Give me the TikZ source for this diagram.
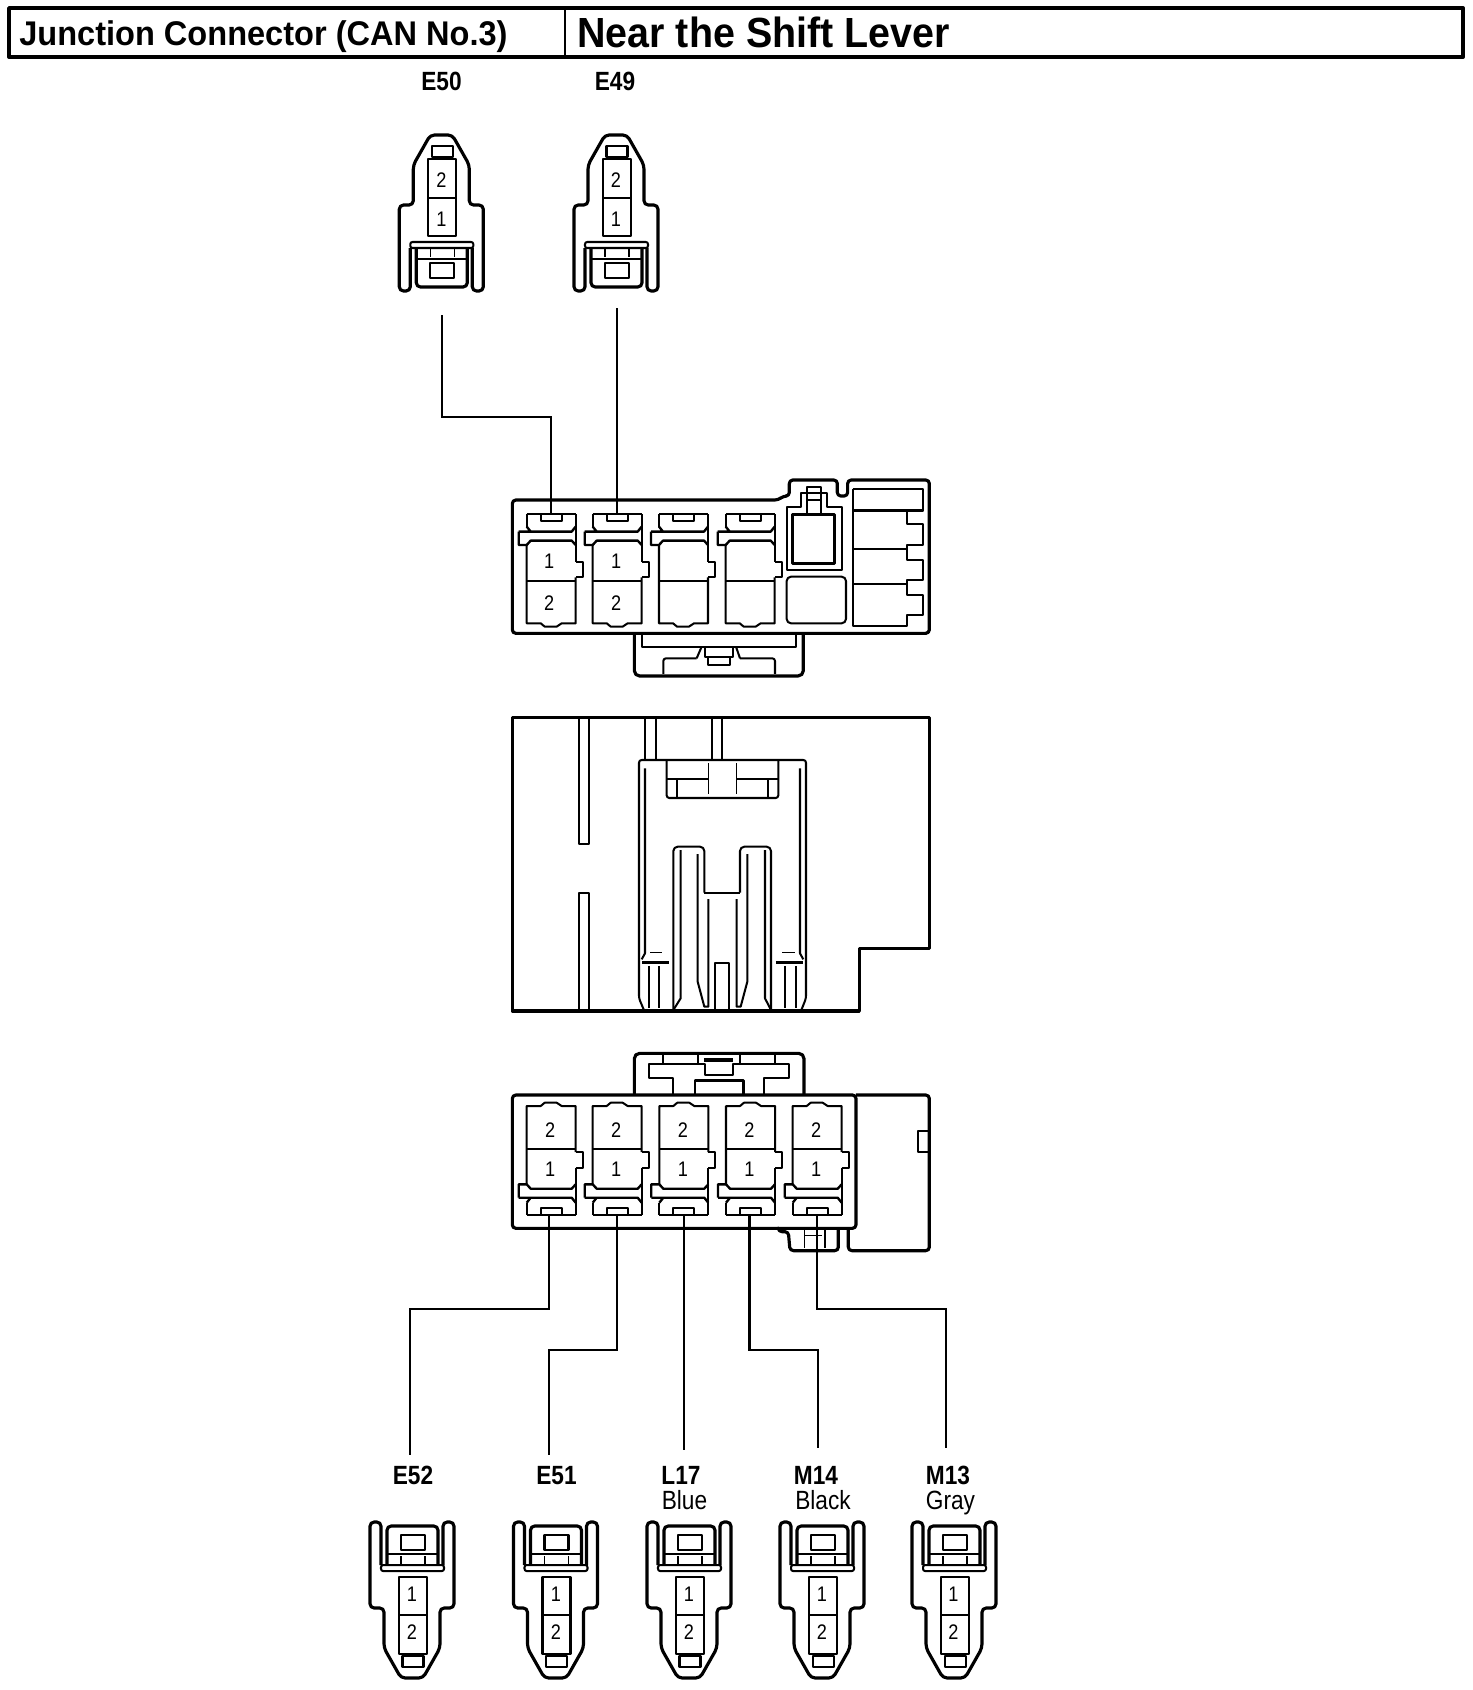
\documentclass[tikz,border=0pt]{standalone}
\usepackage{fontspec}
\setmainfont{Liberation Sans}
\newfontfamily\lab[FakeStretch=.86]{Liberation Sans}
\newfontfamily\ttla[FakeStretch=.95]{Liberation Sans}
\newfontfamily\ttlb[FakeStretch=.935]{Liberation Sans}
\usetikzlibrary{calc}
\tikzset{
 th/.style={line width=1.8pt,line join=round},
 mh/.style={line width=1.35pt,line join=round},
 md/.style={line width=1.15pt,line join=round},
 tn/.style={line width=.8pt,line join=round},
 wire/.style={line width=1.15pt},
 pin/.style={inner sep=0pt,font=\lab\fontsize{12}{12}\selectfont},
 cname/.style={inner sep=0pt,anchor=base,font=\lab\bfseries\fontsize{15}{15}\selectfont},
 ccol/.style={inner sep=0pt,anchor=base,font=\lab\fontsize{15}{15}\selectfont},
 zm/.style={x=0.0066667cm,y=-0.0066667cm},
}
% plug: centre x, origin y, direction, pin-label offset
\newcommand\plug[4]{%
\begin{scope}[shift={(#1,#2)},yscale=#3]
 \draw[th,rounded corners=2.4pt] (-31,113) -- (-31,156) -- (-42,156) -- (-42,70) -- (-28,70) -- (-28,30) -- (-11,0) -- (11,0) -- (28,30) -- (28,70) -- (42,70) -- (42,156) -- (31,156) -- (31,113);
 \draw[md,rounded corners=1.2pt] (-31,113) -- (-31,107) -- (32,107) -- (32,113) -- cycle;
 \draw[th,rounded corners=2.4pt] (-25,113) -- (-25,152) -- (26,152) -- (26,113);
 \draw[md] (-25,124) -- (26,124);
 \draw[tn] (-11,113) -- (-11,122) (13,113) -- (13,122);
 \draw[md] (-11,128) rectangle (13,143);
 \draw[md] (-9.5,11) rectangle (11.5,22);
 \draw[md] (-13,24) rectangle (15,101);
 \draw[tn] (-13,63) -- (15,63);
 \node[pin] at (#4,45.5) {2};
 \node[pin] at (#4,84) {1};
\end{scope}}
% cavity
\newcommand\cavity[4]{%
\begin{scope}[shift={(#1,#2)},yscale=#3]
 \draw[md] (0,0) -- (49,0) (0,0) -- (0,12.3) (49,0) -- (49,47.3);
 \draw[md] (14,0) -- (14,7) -- (35,7) -- (35,0);
 \draw[mh] (-8,17.3) -- (4,17.3) -- (0,12.3) (4,17.3) -- (45,17.3) -- (49,12.3);
 \draw[mh] (-8,17.3) -- (-8,30.7) -- (0,30.7) -- (4,26.3) -- (45,26.3) -- (49,30.7);
 \draw[md] (0,30.7) -- (0,109) -- (14,109) -- (18,112.3) -- (30,112.3) -- (35,109) -- (49,109) -- (49,63);
 \draw[md] (49,47.3) -- (56,47.3) -- (56,63) -- (49,63);
 \draw[md] (0,66.3) -- (49,66.3);
 #4
\end{scope}}
\begin{document}
\begin{tikzpicture}[x=0.02cm,y=-0.02cm]
\useasboundingbox (0,0) rectangle (1472,1690);
% title
\draw[th,line width=2.2pt] (9,8) rectangle (1463,57);
\draw[md] (565,8) -- (565,57);
\node[anchor=base west,inner sep=0pt,font=\ttla\bfseries\fontsize{19.5}{20}\selectfont] (t1) at (19,45) {Junction Connector (CAN No.3)};
\node[anchor=base west,inner sep=0pt,font=\ttlb\bfseries\fontsize{24}{24}\selectfont] (t2) at (577,47) {Near the Shift Lever};
% top plugs
\node[cname] (nE50) at (441.5,90.5) {E50};
\node[cname] (nE49) at (615,90.5) {E49};
\plug{441.3}{135}{1}{0}
\plug{616}{135}{1}{0}
% bottom plugs
\plug{412}{1678}{-1}{0}
\plug{555.5}{1678}{-1}{0.5}
\plug{689}{1678}{-1}{0}
\plug{822}{1678}{-1}{0}
\plug{954}{1678}{-1}{-.5}
\node[cname] (nE52) at (413,1484) {E52};
\node[cname] (nE51) at (556.5,1484) {E51};
\node[cname] (nL17) at (681,1484) {L17};
\node[ccol] (cL17) at (684.5,1509) {Blue};
\node[cname] (nM14) at (816,1484) {M14};
\node[ccol] (cM14) at (823,1509) {Black};
\node[cname] (nM13) at (948,1484) {M13};
\node[ccol] (cM13) at (950.5,1509) {Gray};
% upper block
\begin{scope}[shift={(500,470)},zm]
 \draw[th,rounded corners=2pt] (37,90) -- (835,90) -- (850,78) -- (868,78) -- (868,30) -- (1012,30) -- (1012,78) -- (1043,78) -- (1043,30) -- (1288,30) -- (1288,490) -- (37,490) -- cycle;
 \draw[th,rounded corners=3pt] (403,490) -- (403,618) -- (910,618) -- (910,490);
 \draw[md] (425,490) -- (425,530) -- (888,530) -- (888,490);
 \draw[md,rounded corners=1.5pt] (490,612) -- (490,565) -- (590,565);
 \draw[md] (590,565) -- (605,530);
 \draw[md,rounded corners=1.5pt] (825,612) -- (825,565) -- (720,565);
 \draw[md] (720,565) -- (708,530);
 \draw[md] (615,530) rectangle (700,562);
 \draw[md] (625,562) rectangle (690,585);
 \draw[md] (860,110) -- (903,110) -- (903,70) -- (980,70) -- (980,110) -- (1025,110) -- (1025,300) -- (860,300) -- cycle;
 \draw[mh] (878,133) rectangle (1003,280);
 \draw[md] (922,133) -- (922,50) -- (962,50) -- (962,133);
 \draw[tn] (922,90) -- (962,90);
 \draw[md,rounded corners=2.5pt] (860,320) rectangle (1038,460);
 \draw[md] (1058,58) -- (1058,468) -- (1222,468) -- (1222,435) -- (1268,435) -- (1268,375) -- (1222,375) -- (1222,330) -- (1268,330) -- (1268,270) -- (1222,270) -- (1222,225) -- (1268,225) -- (1268,163) -- (1222,163) -- (1222,122);
 \draw[md] (1058,58) -- (1268,58) -- (1268,122) -- (1058,122);
 \draw[mh] (1058,122) -- (1268,122) (1058,237) -- (1222,237);
 \draw[tn] (1058,342) -- (1222,342);
\end{scope}
\cavity{526.7}{514.3}{1}{\node[pin] at (22.5,47) {1};\node[pin] at (22.5,89) {2};}
\cavity{592.7}{514.3}{1}{\node[pin] at (23.5,47) {1};\node[pin] at (23.5,89) {2};}
\cavity{659}{514.3}{1}{}
\cavity{725.7}{514.3}{1}{}
% middle block
\begin{scope}[shift={(500,710)},zm]
 \draw[th] (37,22) -- (1288,22) -- (1288,715) -- (1078,715) -- (1078,903) -- (37,903) -- cycle;
 \draw[md] (237,22) -- (237,402) -- (267,402) -- (267,22);
 \draw[md] (237,903) -- (237,548) -- (267,548) -- (267,903);
 \draw[md] (435,22) -- (435,150) (467,22) -- (467,150) (635,22) -- (635,150) (667,22) -- (667,150);
 \draw[md,rounded corners=1.5pt] (433,903) -- (417,865) -- (417,150) -- (918,150) -- (918,865) -- (903,903);
 \draw[md] (425,748) -- (435,730) -- (435,175);
 \draw[md] (910,748) -- (900,730) -- (900,175);
 \draw[md,rounded corners=1.5pt] (500,150) -- (500,264) -- (835,264) -- (835,150);
 \draw[md] (500,207) -- (625,207) (710,207) -- (835,207);
 \draw[tn] (625,160) -- (625,252) (710,160) -- (710,252);
 \draw[md] (530,207) -- (530,264) (804,207) -- (804,264);
 \draw[md,rounded corners=2.5pt] (520,903) -- (520,410) -- (613,410) -- (613,548);
 \draw[md,rounded corners=2.5pt] (720,548) -- (720,410) -- (813,410) -- (813,903);
 \draw[md] (613,548) -- (720,548);
 \draw[md] (520,900) -- (542,865) -- (542,420);
 \draw[md] (593,432) -- (593,815) -- (613,890) -- (625,890) -- (625,567);
 \draw[md] (742,432) -- (742,815) -- (722,890) -- (710,890) -- (710,567);
 \draw[md] (813,900) -- (795,865) -- (795,420);
 \draw[md] (645,903) -- (645,760) -- (688,760) -- (688,903);
 \draw[tn] (450,727) -- (485,727) (847,727) -- (885,727);
 \draw[mh] (427,758) -- (507,758) (828,758) -- (908,758);
 \draw[md] (447,768) -- (447,893) (477,768) -- (477,893) (855,768) -- (855,893) (887,768) -- (887,893);
\end{scope}
% lower block
\begin{scope}[shift={(500,1045)},zm]
 \draw[th,rounded corners=2pt] (1068,150) -- (37,150) -- (37,550) -- (1068,550) -- cycle;
 \draw[th,rounded corners=2pt] (1068,150) -- (1288,150) -- (1288,617) -- (1045,617) -- (1045,552);
 \draw[md] (1283,257) -- (1255,257) -- (1255,320) -- (1283,320);
 \draw[th,rounded corners=2pt] (835,552) -- (835,560) -- (865,560) -- (870,617) -- (1015,617) -- (1015,552);
 \draw[tn] (913,552) -- (913,610) (915,572) -- (965,572) (975,552) -- (975,610);
 \draw[th,rounded corners=3pt] (403,150) -- (403,25) -- (912,25) -- (912,150);
 \draw[md] (490,25) -- (490,58) (595,25) -- (595,58) (720,25) -- (720,58) (825,25) -- (825,58);
 \draw[md] (520,150) -- (520,98) -- (447,98) -- (447,58) -- (615,58) -- (615,90) -- (698,90) -- (698,58) -- (868,58) -- (868,98) -- (793,98) -- (793,150);
 \draw[th] (612,45) -- (700,45);
 \draw[mh] (585,150) -- (585,107) -- (730,107) -- (730,150);
\end{scope}
\newcommand\lowpins{\node[pin] at (23.5,46) {1};\node[pin] at (23.5,85) {2};}
\cavity{526.7}{1215}{-1}{\lowpins}
\cavity{592.7}{1215}{-1}{\lowpins}
\cavity{659.3}{1215}{-1}{\lowpins}
\cavity{726}{1215}{-1}{\lowpins}
\cavity{792.7}{1215}{-1}{\lowpins}
% wire ends
\coordinate (a50) at (441.7,315);
\coordinate (b50) at (551,514.3);
\coordinate (a49) at (616.7,308);
\coordinate (b49) at (616.7,514.3);
\coordinate (c1) at (549.3,1215);
\coordinate (c2) at (617,1215);
\coordinate (c3) at (684,1215);
\coordinate (c4) at (749.5,1215);
\coordinate (c5) at (816.5,1215);
\coordinate (d1) at (410,1455);
\coordinate (d2) at (549,1455);
\coordinate (d3) at (684,1450);
\coordinate (d4) at (818,1448);
\coordinate (d5) at (946,1448);
\draw[wire] (a50) -- (a50 |- 0,417) -| (b50);
\draw[wire] (a49) -- (b49);
\draw[wire] (c1) -- (c1 |- 0,1309) -| (d1);
\draw[wire] (c2) -- (c2 |- 0,1350) -| (d2);
\draw[wire] (c3) -- (d3);
\draw[wire] (c4) -- (c4 |- 0,1350) -| (d4);
\draw[wire] (c5) -- (c5 |- 0,1309) -| (d5);
\end{tikzpicture}
\end{document}
